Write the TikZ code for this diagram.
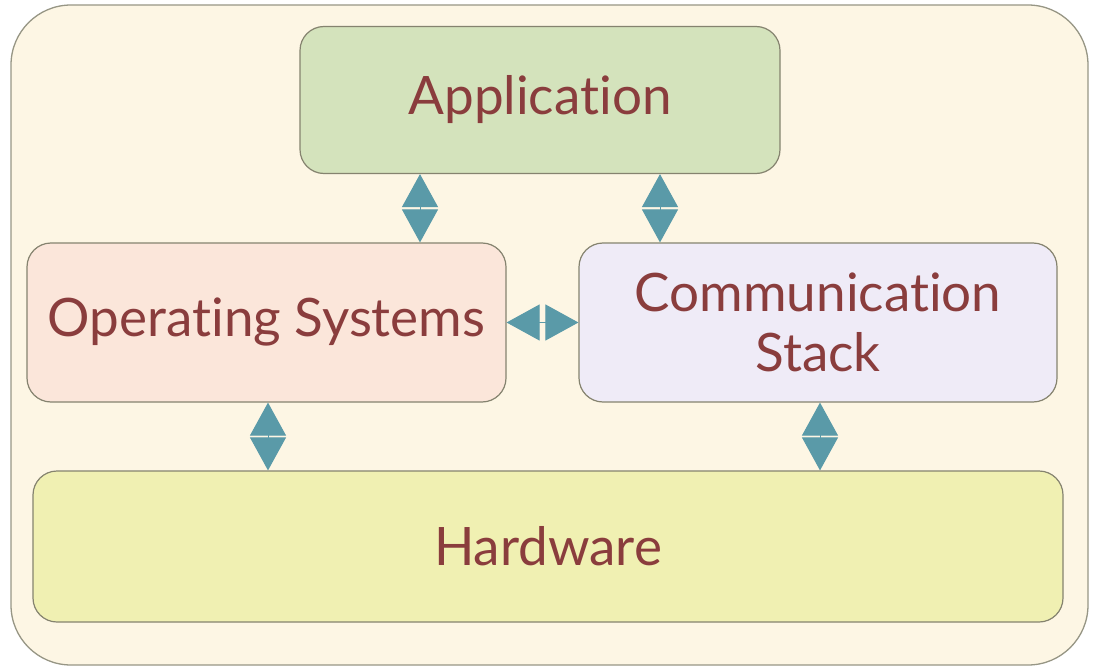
\documentclass[tikz,border=0pt]{standalone}
\usepackage{fontspec}
\setmainfont{Lato}[Ligatures=NoCommon]
\usepackage{xcolor}
\usepackage{tikz}
\usetikzlibrary{arrows.meta,positioning,calc}

\definecolor{outerfill}{HTML}{FDF6E4}
\definecolor{appfill}{HTML}{D4E3BC}
\definecolor{osfill}{HTML}{FBE6DA}
\definecolor{commfill}{HTML}{EFEBF7}
\definecolor{hwfill}{HTML}{F0F0B2}
\definecolor{labeltext}{HTML}{8A3D3D}
\definecolor{linkteal}{HTML}{5A9AA8}
\definecolor{boxline}{HTML}{85836F}

\begin{document}
\begin{tikzpicture}[
  x=1pt, y=-1pt,
  every node/.style={font=\fontsize{53}{60}\selectfont, text=labeltext},
  layer/.style={draw=boxline, line width=1.2pt, rounded corners=24pt, align=center, inner sep=0pt},
  link/.style={draw=linkteal, line width=1pt, {Triangle[width=36pt,length=33pt,fill=linkteal]}-{Triangle[width=36pt,length=33pt,fill=linkteal]}}
]
\useasboundingbox (0,0) rectangle (1093,669);
\draw[draw=boxline!85, fill=outerfill, line width=1.3pt, rounded corners=60pt] (11,5) rectangle (1088,665);

\node[layer, fill=appfill, minimum width=480pt, minimum height=147pt] (app) at (540,100) {Application};
\node[layer, fill=osfill, minimum width=479pt, minimum height=159pt] (os) at (266.5,322.5) {Operating Systems};
\node[layer, fill=commfill, minimum width=478pt, minimum height=159pt] (comm) at (818,322.5) {Communication\\Stack};
\node[layer, fill=hwfill, minimum width=1030pt, minimum height=151pt] (hw) at (548,546.5) {Hardware};

% links between layers
\draw[link] ([xshift=-120pt]app.south) -- ([xshift=-120pt]app.south |- os.north);
\draw[link] ([xshift=120pt]app.south) -- ([xshift=120pt]app.south |- comm.north);
\draw[link] (os.east) -- (comm.west);
\draw[link] ([xshift=1.5pt]os.south) -- ([xshift=1.5pt]os.south |- hw.north);
\draw[link] ([xshift=2pt]comm.south) -- ([xshift=2pt]comm.south |- hw.north);
\end{tikzpicture}
\end{document}
